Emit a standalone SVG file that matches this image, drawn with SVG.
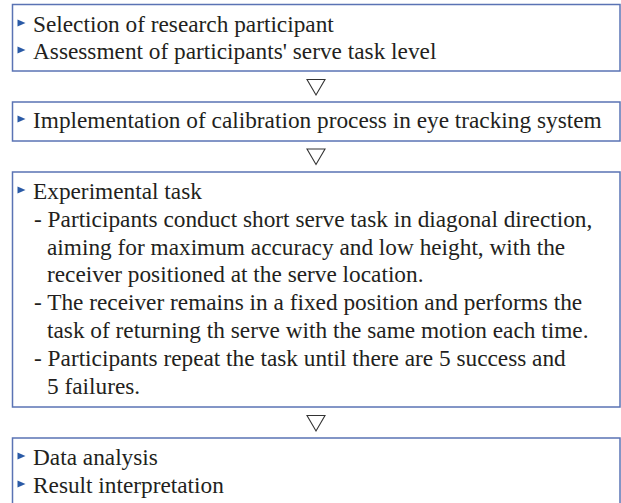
<svg xmlns="http://www.w3.org/2000/svg" width="621" height="503" viewBox="0 0 621 503">
<defs>
<style>
.box{fill:#ffffff;stroke:#5a73b4;stroke-width:1.5}
.lbl{font-family:"Liberation Serif","Times New Roman",serif;font-size:23.3px;fill:#231f20}
.bul{fill:#2a5aa6}
.arr{fill:none;stroke:#333333;stroke-width:1.1}
</style>
<polygon id="bul" class="bul" points="0,-12.5 8,-9 0,-5.5"/>
</defs>
<rect width="621" height="503" fill="#ffffff"/>
<g id="node1">
<rect class="box" x="12.5" y="4.5" width="607.5" height="66.5"/>
<use href="#bul" x="17.5" y="32"/>
<text class="lbl" x="33" y="32">Selection of research participant</text>
<use href="#bul" x="17.5" y="59"/>
<text class="lbl" x="33" y="59">Assessment of participants' serve task level</text>
</g>
<g id="node2">
<rect class="box" x="12.5" y="102" width="607.5" height="39"/>
<use href="#bul" x="17.5" y="128"/>
<text class="lbl" x="33" y="128">Implementation of calibration process in eye tracking system</text>
</g>
<g id="node3">
<rect class="box" x="12.5" y="172" width="607.5" height="235"/>
<use href="#bul" x="17.5" y="199"/>
<text class="lbl" x="33" y="199">Experimental task</text>
<text class="lbl" x="34" y="227">- Participants conduct short serve task in diagonal direction,</text>
<text class="lbl" x="47" y="254.5">aiming for maximum accuracy and low height, with the</text>
<text class="lbl" x="47" y="282">receiver positioned at the serve location.</text>
<text class="lbl" x="34" y="310">- The receiver remains in a fixed position and performs the</text>
<text class="lbl" x="47" y="338">task of returning th serve with the same motion each time.</text>
<text class="lbl" x="34" y="366">- Participants repeat the task until there are 5 success and</text>
<text class="lbl" x="47" y="394">5 failures.</text>
</g>
<g id="node4">
<rect class="box" x="12.5" y="438" width="607.5" height="70"/>
<use href="#bul" x="17.5" y="465"/>
<text class="lbl" x="33" y="465">Data analysis</text>
<use href="#bul" x="17.5" y="493"/>
<text class="lbl" x="33" y="493">Result interpretation</text>
</g>
<g id="connectors">
<polygon class="arr" points="307,79.5 325,79.5 316,95"/>
<polygon class="arr" points="307,149 325,149 316,164.5"/>
<polygon class="arr" points="307,415.5 325,415.5 316,431"/>
</g>
</svg>
